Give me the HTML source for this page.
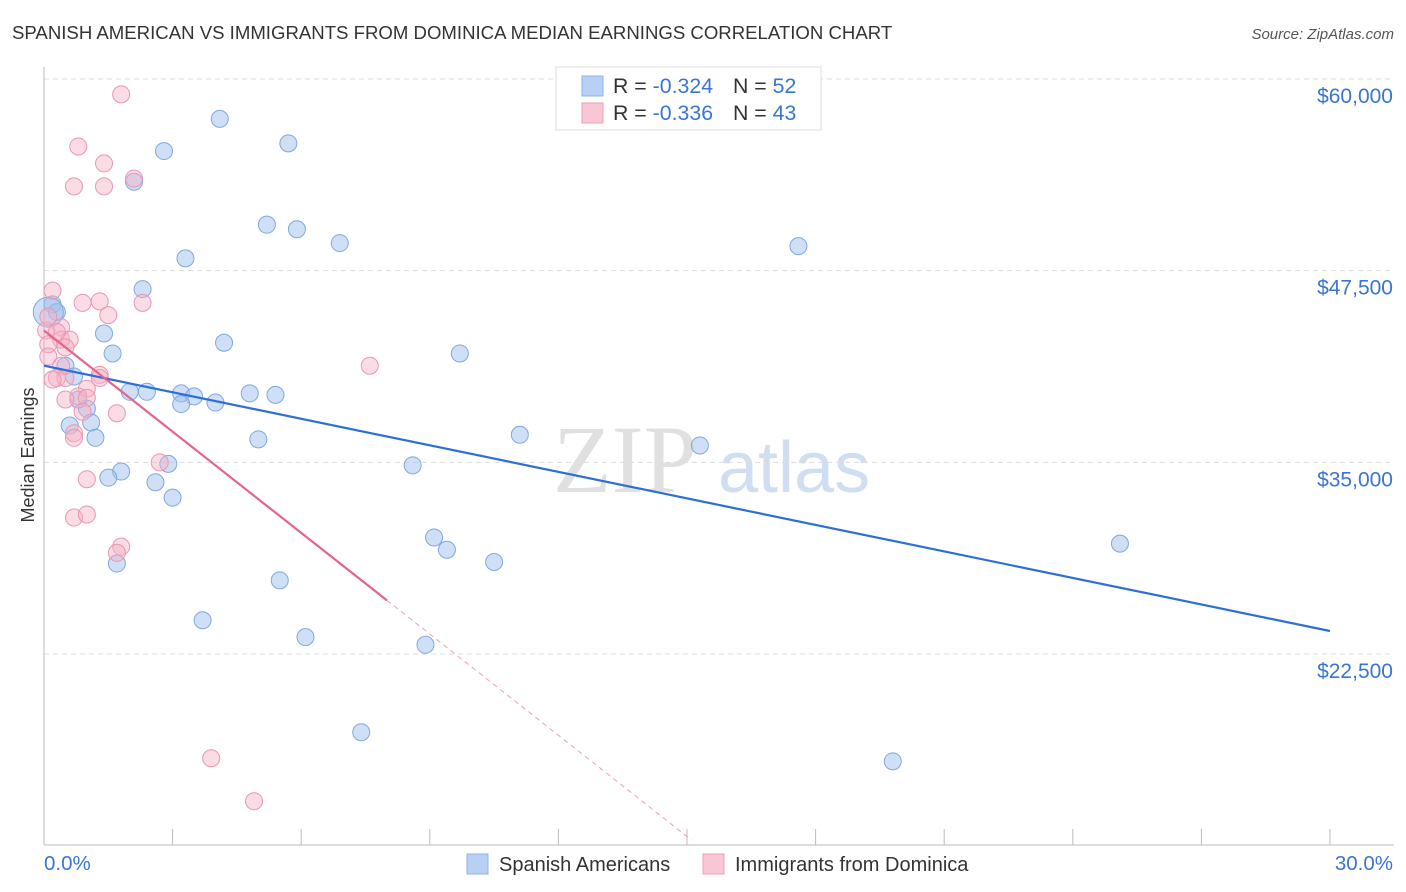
<!DOCTYPE html>
<html><head><meta charset="utf-8"><style>
body{margin:0;background:#fff;font-family:"Liberation Sans",sans-serif;}
svg{display:block}
</style></head><body>
<svg id="chart" width="1406" height="892">
<text x="12" y="39" font-size="18.6" fill="#333">SPANISH AMERICAN VS IMMIGRANTS FROM DOMINICA MEDIAN EARNINGS CORRELATION CHART</text>
<text x="1394" y="39" font-size="15" fill="#555" font-style="italic" text-anchor="end">Source: ZipAtlas.com</text>
<text x="34" y="455" font-size="18" fill="#333" text-anchor="middle" transform="rotate(-90 34 455)">Median Earnings</text>
<g>
<text x="553" y="492" font-size="96" fill="#e0e0e0" font-family="Liberation Serif,serif">ZIP</text>
<text x="718" y="492" font-size="72" fill="#d0def2">atlas</text>
</g>
<g id="grid"></g><g id="axes"></g><g id="marks"></g>
<g>
<rect x="556" y="67" width="265" height="63" fill="#fff" stroke="#ddd"/>
<rect x="582" y="76" width="21" height="20" fill="#b8d0f3" stroke="#8db2e8"/>
<rect x="582" y="103" width="21" height="20" fill="#f9c6d5" stroke="#eda0b8"/>
<text x="613" y="93" font-size="21.3" fill="#333">R = <tspan fill="#3a75d2">-0.324</tspan><tspan x="733">N = </tspan><tspan fill="#3a75d2">52</tspan></text>
<text x="613" y="120" font-size="21.3" fill="#333">R = <tspan fill="#3a75d2">-0.336</tspan><tspan x="733">N = </tspan><tspan fill="#3a75d2">43</tspan></text>
</g>
<g>
<rect x="467" y="854" width="21" height="20" fill="#b8d0f3" stroke="#8db2e8"/>
<text x="499" y="871" font-size="20" fill="#333">Spanish Americans</text>
<rect x="703" y="854" width="21" height="20" fill="#f9c6d5" stroke="#eda0b8"/>
<text x="735" y="871" font-size="20" fill="#333">Immigrants from Dominica</text>
</g>
</svg>
<script>
const yTicks=[22500,35000,47500,60000];
const yTickLabels=["$22,500","$35,000","$47,500","$60,000"];
const xLabels=["0.0%","30.0%"];
const blueX=[4.1,5.7,2.8,2.1,5.2,5.9,6.9,17.6,3.3,2.3,0.2,0.3,1.4,4.2,1.6,9.7,0.5,0.7,2.0,2.4,3.2,3.5,4.8,5.4,3.2,4.0,1.0,0.8,1.1,0.6,1.2,5.0,11.1,15.3,2.9,8.6,1.8,1.5,2.6,3.0,9.1,9.4,25.1,10.5,1.7,5.5,3.7,6.1,8.9,7.4,19.8,0.1];
const blueY=[57400,55800,55300,53300,50500,50200,49300,49100,48300,46300,45300,44800,43400,42800,42100,42100,41300,40600,39600,39600,39500,39300,39500,39400,38800,38900,38500,39100,37600,37400,36600,36500,36800,36100,34900,34800,34400,34000,33700,32700,30100,29300,29700,28500,28400,27300,24700,23600,23100,17400,15500,44800];
const pinkX=[1.8,0.8,1.4,0.7,1.4,2.1,0.2,1.3,0.9,2.3,1.5,0.4,0.05,0.4,0.6,0.1,0.1,0.4,7.6,0.3,0.5,1.3,1.0,0.8,1.0,1.7,0.7,0.7,2.7,1.0,0.7,1.0,1.8,1.7,3.9,4.9,0.2,0.5,0.3,0.1,0.5,0.9,1.3];
const pinkY=[59000,55600,54500,53000,53000,53500,46200,45500,45400,45400,44600,43800,43600,43000,43000,42700,41900,41300,41300,40500,40500,40700,39800,39300,39200,38200,36900,36600,35000,33900,31400,31600,29500,29100,15700,12900,40400,42500,43500,44500,39100,38300,40500];
const blueTrend=[41300,24000];
const pinkTrend=[43600,-2200];
const pinkSolidEnd=8, pinkDashEnd=15.1;

const NS="http://www.w3.org/2000/svg";
const X=p=>44+p*(1286/30);
const Y=v=>79+(60000-v)/37500*575;
function mk(tag,attrs,parent){const e=document.createElementNS(NS,tag);for(const k in attrs)e.setAttribute(k,attrs[k]);document.getElementById(parent).appendChild(e);return e;}
yTicks.forEach((t,i)=>{
  const l=mk('line',{x1:44,x2:1394,y1:Y(t),y2:Y(t),stroke:'#ddd','stroke-dasharray':'5,4'},'grid');
  
  
  const tx=mk('text',{x:1393,y:Y(t)+24,'font-size':21,fill:'#3a75d2','text-anchor':'end'},'axes');
  tx.textContent=yTickLabels[i];
  
  
});
mk('line',{x1:44,x2:44,y1:67,y2:845,stroke:'#bbb'},'axes');
mk('line',{x1:44,x2:1394,y1:845,y2:845,stroke:'#bbb'},'axes');
for(let i=0;i<=10;i++){mk('line',{x1:X(i*3),x2:X(i*3),y1:829,y2:845,stroke:'#bbb'},'axes');}
const xl0=mk('text',{x:44,y:870,'font-size':20.5,fill:'#3a75d2'},'axes');xl0.textContent=xLabels[0];


const xl1=mk('text',{x:1393,y:870,'font-size':20.5,fill:'#3a75d2','text-anchor':'end'},'axes');xl1.textContent=xLabels[1];


blueX.forEach((p,i)=>{
  const c=mk('circle',{cx:X(p),cy:Y(blueY[i]),r:i===blueX.length-1?15:8.5,fill:'rgba(160,192,236,0.5)',stroke:'#7fa8e2','stroke-width':1},'marks');
  
  
});
pinkX.forEach((p,i)=>{
  const c=mk('circle',{cx:X(p),cy:Y(pinkY[i]),r:8.5,fill:'rgba(245,178,198,0.45)',stroke:'#eb96b2','stroke-width':1},'marks');
  
  
});
const bl=mk('line',{x1:X(0),y1:Y(blueTrend[0]),x2:X(30),y2:Y(blueTrend[1]),stroke:'#2c6fd6','stroke-width':2.2},'marks');


const pv=p=>pinkTrend[0]+pinkTrend[1]*p;
const pl=mk('line',{x1:X(0),y1:Y(pv(0)),x2:X(pinkSolidEnd),y2:Y(pv(pinkSolidEnd)),stroke:'#e4648e','stroke-width':2.2},'marks');


const pd=mk('line',{x1:X(pinkSolidEnd),y1:Y(pv(pinkSolidEnd)),x2:X(pinkDashEnd),y2:Y(pv(pinkDashEnd)),stroke:'#eaa0b8','stroke-width':1,'stroke-dasharray':'5,4'},'marks');


</script>
</body></html>
